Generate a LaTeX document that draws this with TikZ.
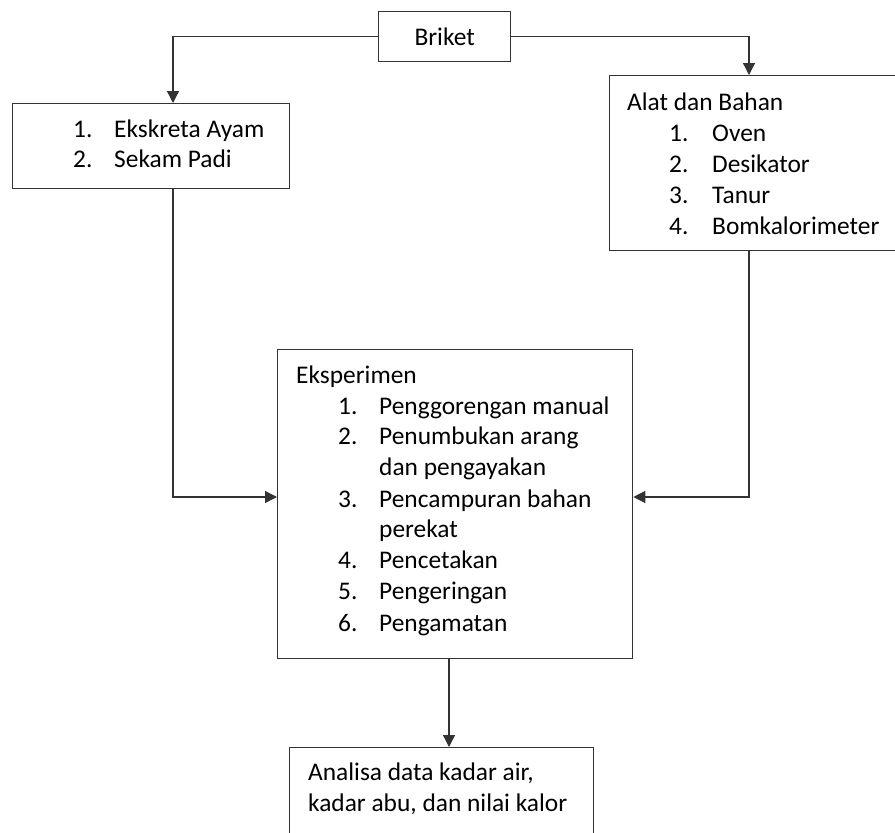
\documentclass[tikz,border=0pt]{standalone}
\usepackage{fontspec}
\setmainfont{Carlito}
\usetikzlibrary{arrows.meta}
\begin{document}
\begin{tikzpicture}[x=1pt,y=-1pt,
  every node/.style={font=\fontsize{25.4}{30}\selectfont, text=black},
  box/.style={draw=black!80, line width=1.3pt, rectangle, anchor=north west, inner sep=0pt},
  txt/.style={anchor=base west, inner sep=0pt},
  arr/.style={draw=black!80, line width=1.3pt, -{Triangle[width=12pt,length=12pt]}}]
\useasboundingbox (0,0) rectangle (895,833);
\clip (0,0) rectangle (895,833);
% boxes
\node[box, minimum width=132pt, minimum height=50pt] (briket) at (378,11) {};
\node[inner sep=0pt] (briketT) at (briket.center) {Briket};
\node[box, minimum width=277pt, minimum height=85pt] (eks) at (12,103) {};
\node[box, minimum width=300pt, minimum height=175pt] (alat) at (609,75) {};
\node[box, minimum width=355pt, minimum height=309pt] (exp) at (277,349) {};
\node[box, minimum width=304pt, minimum height=120pt] (ana) at (289,747) {};
% texts: Ekskreta box
\node[txt] (e1n) at (73,137) {1.};
\node[txt] (e1) at (114,137) {Ekskreta Ayam};
\node[txt] (e2n) at (73,167) {2.};
\node[txt] (e2) at (114,167) {Sekam Padi};
% Alat box
\node[txt] (a0) at (627,110) {Alat dan Bahan};
\node[txt] (a1n) at (669,141) {1.};
\node[txt] (a1) at (712,141) {Oven};
\node[txt] (a2n) at (669,172) {2.};
\node[txt] (a2) at (712,172) {Desikator};
\node[txt] (a3n) at (669,203) {3.};
\node[txt] (a3) at (712,203) {Tanur};
\node[txt] (a4n) at (669,234) {4.};
\node[txt] (a4) at (712,234) {Bomkalorimeter};
% Eksperimen box
\node[txt] (x0) at (296,383) {Eksperimen};
\node[txt] (x1n) at (338,414) {1.};
\node[txt] (x1) at (379,414) {Penggorengan manual};
\node[txt] (x2n) at (338,444) {2.};
\node[txt] (x2) at (379,444) {Penumbukan arang};
\node[txt] (x2b) at (379,475) {dan pengayakan};
\node[txt] (x3n) at (338,507) {3.};
\node[txt] (x3) at (379,507) {Pencampuran bahan};
\node[txt] (x3b) at (379,537) {perekat};
\node[txt] (x4n) at (338,568) {4.};
\node[txt] (x4) at (379,568) {Pencetakan};
\node[txt] (x5n) at (338,599) {5.};
\node[txt] (x5) at (379,599) {Pengeringan};
\node[txt] (x6n) at (338,631) {6.};
\node[txt] (x6) at (379,631) {Pengamatan};
% Analisa box
\node[txt] (an1) at (308,780) {Analisa data kadar air,};
\node[txt] (an2) at (308,811) {kadar abu, dan nilai kalor};
% connector coordinates
\coordinate (lx) at (173,0);
\coordinate (rx) at (749,0);
\coordinate (cx) at (449,0);
\coordinate (my) at (0,497);
% connectors
\draw[arr] (briket.west) -| (lx |- eks.north);
\draw[arr] (briket.east) -| (rx |- alat.north);
\draw[arr] (lx |- eks.south) |- (exp.west |- my);
\draw[arr] (rx |- alat.south) |- (exp.east |- my);
\draw[arr] (cx |- exp.south) -- (cx |- ana.north);
\end{tikzpicture}
\end{document}
